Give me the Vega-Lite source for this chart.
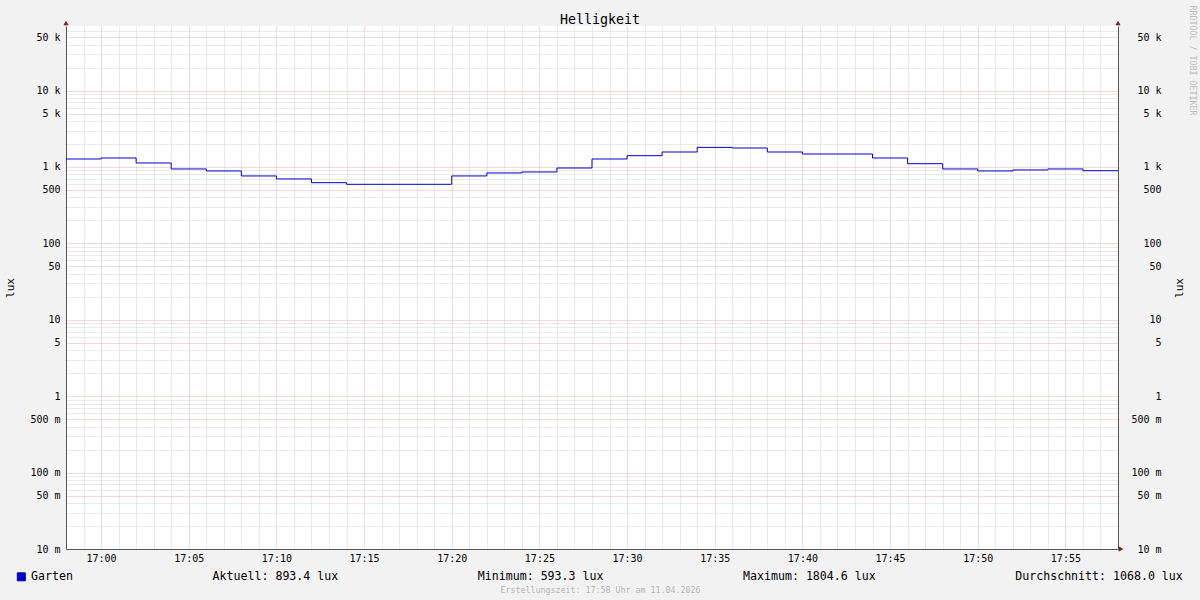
{
  "$schema": "https://vega.github.io/schema/vega-lite/v6.json",
  "width": 1052,
  "height": 523,
  "autosize": {"type": "none"},
  "padding": {"left": 66, "top": 26, "right": 82, "bottom": 51},
  "background": "#f2f2f2",
  "config": {"view": {"fill": "#ffffff", "stroke": null}, "font": "DejaVu Sans Mono"},
  "title": {"text": "Helligkeit", "font": "DejaVu Sans Mono", "fontSize": 13.3, "fontWeight": "normal", "color": "#000000", "anchor": "middle", "frame": "group", "dx": 8, "offset": -21},
  "resolve": {"scale": {"y": "independent"}},
  "layer": [
    {
      "data": {"values": [
        {"t": "2026-04-11T16:58:00Z", "v": 1272},
        {"t": "2026-04-11T17:00:00Z", "v": 1311},
        {"t": "2026-04-11T17:02:00Z", "v": 1128},
        {"t": "2026-04-11T17:04:00Z", "v": 942},
        {"t": "2026-04-11T17:06:00Z", "v": 887},
        {"t": "2026-04-11T17:08:00Z", "v": 763},
        {"t": "2026-04-11T17:10:00Z", "v": 697},
        {"t": "2026-04-11T17:12:00Z", "v": 623},
        {"t": "2026-04-11T17:14:00Z", "v": 593.3},
        {"t": "2026-04-11T17:20:00Z", "v": 763},
        {"t": "2026-04-11T17:22:00Z", "v": 835},
        {"t": "2026-04-11T17:24:00Z", "v": 860},
        {"t": "2026-04-11T17:26:00Z", "v": 970},
        {"t": "2026-04-11T17:28:00Z", "v": 1272},
        {"t": "2026-04-11T17:30:00Z", "v": 1405},
        {"t": "2026-04-11T17:32:00Z", "v": 1571},
        {"t": "2026-04-11T17:34:00Z", "v": 1804.6},
        {"t": "2026-04-11T17:36:00Z", "v": 1772},
        {"t": "2026-04-11T17:38:00Z", "v": 1571},
        {"t": "2026-04-11T17:40:00Z", "v": 1479},
        {"t": "2026-04-11T17:44:00Z", "v": 1311},
        {"t": "2026-04-11T17:46:00Z", "v": 1104},
        {"t": "2026-04-11T17:48:00Z", "v": 942},
        {"t": "2026-04-11T17:50:00Z", "v": 887},
        {"t": "2026-04-11T17:52:00Z", "v": 914},
        {"t": "2026-04-11T17:54:00Z", "v": 942},
        {"t": "2026-04-11T17:56:00Z", "v": 893.4},
        {"t": "2026-04-11T17:58:00Z", "v": 893.4}
      ]},
      "mark": {"type": "line", "interpolate": "step-after", "strokeWidth": 1},
      "encoding": {
        "x": {
          "field": "t", "type": "temporal",
          "scale": {"type": "utc", "nice": false, "domain": [1775926680000, 1775930280000]},
          "axis": {
            "orient": "bottom",
            "tickCount": 60,
            "grid": true,
            "gridColor": {"condition": {"test": "utcminutes(datum.value) % 5 === 0", "value": "#e8b0b0"}, "value": "#d4d4d4"},
            "gridDash": [1, 1],
            "gridWidth": 1,
            "ticks": false,
            "labelExpr": "utcminutes(datum.value) % 5 === 0 ? utcFormat(datum.value, '%H:%M') : ''",
            "labelFont": "DejaVu Sans Mono",
            "labelFontSize": 10,
            "labelColor": "#000000",
            "labelPadding": 4,
            "labelOverlap": false,
            "labelFlush": false,
            "domainColor": "#555555",
            "title": "Erstellungszeit: 17:58 Uhr am 11.04.2026",
            "titleFont": "DejaVu Sans Mono",
            "titleFontSize": 8.3,
            "titleFontWeight": "normal",
            "titleColor": "#b4b4b4",
            "titleX": 534,
            "titleY": 43,
            "titleAlign": "center",
            "titleBaseline": "alphabetic"
          }
        },
        "y": {
          "field": "v", "type": "quantitative",
          "scale": {"type": "log", "domain": [0.01, 70000], "nice": false, "zero": false},
          "axis": {
            "orient": "left",
            "values": [0.01,0.02,0.03,0.04,0.05,0.06,0.07,0.08,0.09,0.1,0.2,0.3,0.4,0.5,0.6,0.7,0.8,0.9,1,2,3,4,5,6,7,8,9,10,20,30,40,50,60,70,80,90,100,200,300,400,500,600,700,800,900,1000,2000,3000,4000,5000,6000,7000,8000,9000,10000,20000,30000,40000,50000,60000],
            "grid": true,
            "gridColor": {"condition": {"test": "indexof([0.01,0.05,0.1,0.5,1,5,10,50,100,500,1000,5000,10000,50000], datum.value) >= 0", "value": "#e8b0b0"}, "value": "#d4d4d4"},
            "gridDash": [1, 1],
            "gridWidth": 1,
            "ticks": false,
            "labelExpr": "indexof([0.01,0.05,0.1,0.5,1,5,10,50,100,500,1000,5000,10000,50000], datum.value) < 0 ? '' : datum.value >= 1000 ? format(datum.value/1000, 'd') + ' k' : datum.value >= 1 ? format(datum.value, 'd') + '\u00a0\u00a0' : format(datum.value*1000, 'd') + ' m'",
            "labelFont": "DejaVu Sans Mono",
            "labelFontSize": 10,
            "labelColor": "#000000",
            "labelPadding": 6,
            "labelBaseline": "middle",
            "labelOverlap": false,
            "labelFlush": false,
            "domainColor": "#555555",
            "title": "lux",
            "titleFont": "DejaVu Sans Mono",
            "titleFontSize": 11,
            "titleFontWeight": "normal",
            "titleColor": "#000000",
            "titleAngle": -90,
            "titleX": -56,
            "titleY": 261.5,
            "titleAlign": "center",
            "titleBaseline": "middle"
          }
        },
        "color": {
          "datum": "Garten",
          "scale": {"range": ["#0000cc"]},
          "legend": {
            "orient": "none",
            "legendX": -50.5,
            "legendY": 545,
            "title": null,
            "padding": 0,
            "symbolType": "square",
            "symbolSize": 64,
            "symbolFillColor": "#0000cc",
            "symbolStrokeColor": "#000000",
            "symbolStrokeWidth": 1,
            "labelFont": "DejaVu Sans Mono",
            "labelFontSize": 11.6,
            "labelColor": "#000000",
            "labelLimit": 3000,
            "labelOffset": 4,
            "labelExpr": "datum.label + '\u00a0\u00a0\u00a0\u00a0\u00a0\u00a0\u00a0\u00a0\u00a0\u00a0\u00a0\u00a0\u00a0\u00a0\u00a0\u00a0\u00a0\u00a0\u00a0\u00a0' + 'Aktuell: 893.4 lux' + '\u00a0\u00a0\u00a0\u00a0\u00a0\u00a0\u00a0\u00a0\u00a0\u00a0\u00a0\u00a0\u00a0\u00a0\u00a0\u00a0\u00a0\u00a0\u00a0\u00a0' + 'Minimum: 593.3 lux' + '\u00a0\u00a0\u00a0\u00a0\u00a0\u00a0\u00a0\u00a0\u00a0\u00a0\u00a0\u00a0\u00a0\u00a0\u00a0\u00a0\u00a0\u00a0\u00a0\u00a0' + 'Maximum: 1804.6 lux' + '\u00a0\u00a0\u00a0\u00a0\u00a0\u00a0\u00a0\u00a0\u00a0\u00a0\u00a0\u00a0\u00a0\u00a0\u00a0\u00a0\u00a0\u00a0\u00a0\u00a0' + 'Durchschnitt: 1068.0 lux'",
            "encode": {"symbols": {"update": {"fill": {"value": "#0000cc"}, "stroke": {"value": "#000000"}, "strokeWidth": {"value": 1}}}}
          }
        }
      }
    },
    {
      "data": {"values": [
        {"t": "2026-04-11T16:58:00Z", "v": 70000},
        {"t": "2026-04-11T17:58:00Z", "v": 70000}
      ]},
      "mark": {"type": "point", "shape": "triangle-up", "filled": true, "color": "#801f1f", "opacity": 1, "size": 28, "yOffset": -3},
      "encoding": {
        "x": {"field": "t", "type": "temporal"},
        "y": {
          "field": "v", "type": "quantitative",
          "scale": {"type": "log", "domain": [0.01, 70000], "nice": false, "zero": false},
          "axis": {
            "orient": "right",
            "values": [0.01,0.05,0.1,0.5,1,5,10,50,100,500,1000,5000,10000,50000],
            "grid": false,
            "ticks": false,
            "labelExpr": "datum.value >= 1000 ? format(datum.value/1000, 'd') + ' k' : datum.value >= 1 ? format(datum.value, 'd') + '\u00a0\u00a0' : format(datum.value*1000, 'd') + ' m'",
            "labelFont": "DejaVu Sans Mono",
            "labelFontSize": 10,
            "labelColor": "#000000",
            "labelPadding": 43,
            "labelAlign": "right",
            "labelBaseline": "middle",
            "labelOverlap": false,
            "labelFlush": false,
            "domainColor": "#555555",
            "title": "lux",
            "titleFont": "DejaVu Sans Mono",
            "titleFontSize": 11,
            "titleFontWeight": "normal",
            "titleColor": "#000000",
            "titleAngle": -90,
            "titleX": 61,
            "titleY": 261.5,
            "titleAlign": "center",
            "titleBaseline": "middle"
          }
        }
      }
    },
    {
      "data": {"values": [
        {"t": "2026-04-11T17:58:00Z", "v": 0.01}
      ]},
      "mark": {"type": "point", "shape": "triangle-right", "filled": true, "color": "#801f1f", "opacity": 1, "size": 28, "xOffset": 3},
      "encoding": {
        "x": {"field": "t", "type": "temporal"},
        "y": {
          "field": "v", "type": "quantitative",
          "scale": {"type": "log", "domain": [0.01, 70000], "nice": false, "zero": false},
          "axis": {
            "orient": "right",
            "values": [0.01],
            "grid": false,
            "ticks": false,
            "labels": false,
            "domain": false,
            "title": "RRDTOOL / TOBI OETIKER",
            "titleFont": "DejaVu Sans Mono",
            "titleFontSize": 8.3,
            "titleFontWeight": "normal",
            "titleColor": "#bcbcbc",
            "titleAngle": 90,
            "titleX": 73,
            "titleY": -21,
            "titleAlign": "left",
            "titleBaseline": "middle"
          }
        }
      }
    }
  ]
}
